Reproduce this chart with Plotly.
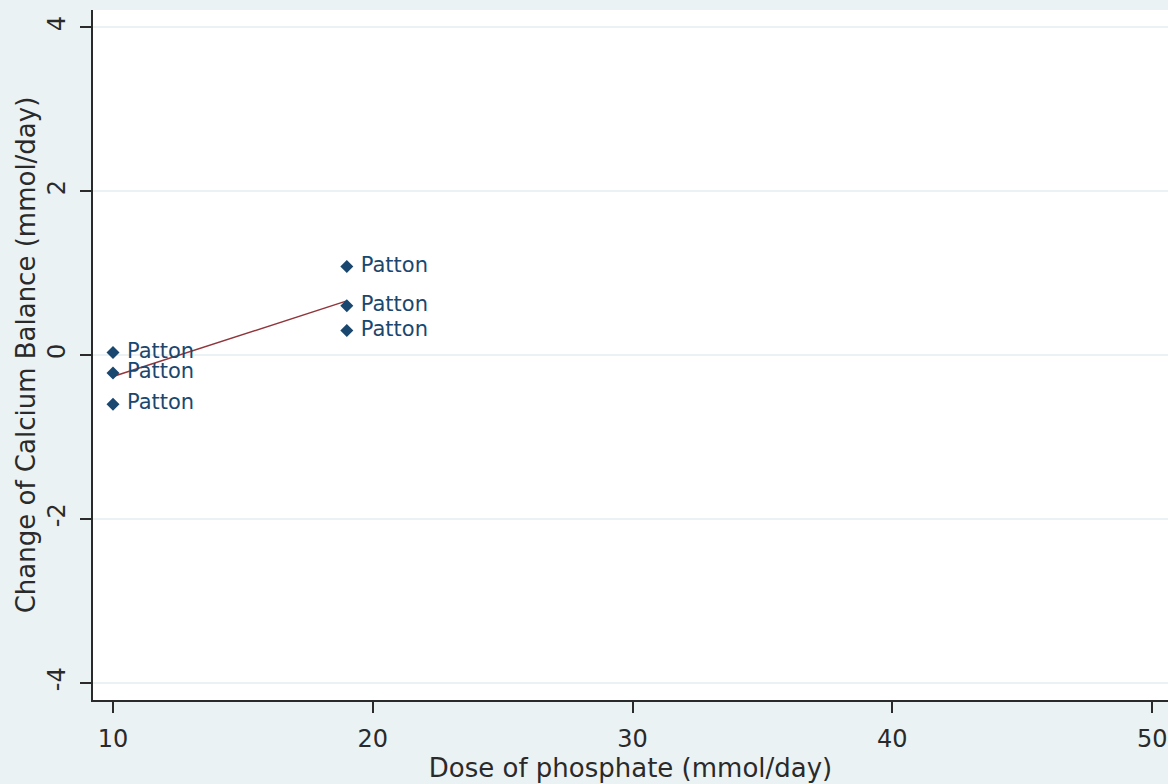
import numpy as np
import plotly.graph_objects as go

# Data
dose = [10, 10, 10, 19, 19, 19]
calcium_change = [0.03, -0.22, -0.60, 1.08, 0.60, 0.30]
study_labels = ["Patton", "Patton", "Patton", "Patton", "Patton", "Patton"]

x_ticks = [10, 20, 30, 40, 50]
x_tick_text = ["10", "20", "30", "40", "50"]
y_ticks = [-4, -2, 0, 2, 4]
y_tick_text = ["-4", "-2", "0", "2", "4"]

# Linear fit through the points (as drawn in the reference)
slope, intercept = np.polyfit(dose, calcium_change, 1)
fit_x = [min(dose), max(dose)]
fit_y = [intercept + slope * v for v in fit_x]

NAVY = "#1a476f"
MAROON = "#90353b"
BG = "#eaf2f3"
INK = "#2a2a2a"
FONT = "DejaVu Sans"

fig = go.Figure()
fig.add_trace(go.Scatter(
    x=fit_x, y=fit_y, mode="lines",
    line=dict(color=MAROON, width=1.5),
    hoverinfo="skip", showlegend=False,
))
fig.add_trace(go.Scatter(
    x=dose, y=calcium_change, mode="markers+text",
    text=study_labels, texttemplate=" %{text}", textposition="middle right",
    textfont=dict(family=FONT, size=21, color=NAVY),
    marker=dict(symbol="diamond", size=10, color=NAVY),
    showlegend=False,
))

fig.update_layout(
    width=1168, height=784,
    paper_bgcolor=BG, plot_bgcolor="white",
    margin=dict(l=93, r=0, t=10, b=84, autoexpand=False),
    font=dict(family=FONT, size=24, color=INK),
    xaxis=dict(
        range=[9.23, 50.61], tickvals=x_ticks, ticktext=x_tick_text,
        automargin=False,
        showgrid=False, zeroline=False,
        showline=True, linecolor=INK, linewidth=2,
        ticks="outside", ticklen=11, tickwidth=2, tickcolor=INK,
        ticklabelstandoff=5,
        tickfont=dict(family=FONT, size=24, color=INK),
        title=dict(text="Dose of phosphate (mmol/day)", standoff=7,
                   font=dict(family=FONT, size=26, color=INK)),
    ),
    yaxis=dict(
        range=[-4.21, 4.21], tickvals=y_ticks, ticktext=y_tick_text,
        tickangle=-90, automargin=False,
        showgrid=True, gridcolor=BG, gridwidth=1.5, zeroline=False,
        showline=True, linecolor=INK, linewidth=2,
        ticks="outside", ticklen=11, tickwidth=2, tickcolor=INK,
        ticklabelstandoff=5,
        tickfont=dict(family=FONT, size=24, color=INK),
        title=dict(text="Change of Calcium Balance (mmol/day)", standoff=0,
                   font=dict(family=FONT, size=26, color=INK)),
    ),
)

page_fix = (
    "document.body.style.margin='0';"
    "document.body.style.overflow='hidden';"
    "document.body.style.background='" + BG + "';"
)
fig.write_html("out.html", post_script=page_fix,
               config={"displayModeBar": False})
